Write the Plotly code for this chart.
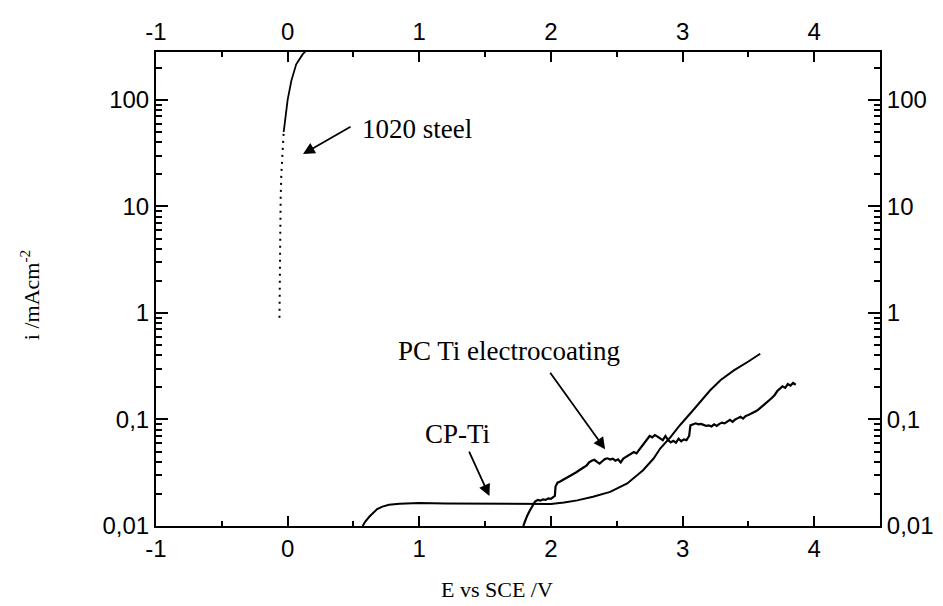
import numpy as np
import plotly.graph_objects as go

# ---------------- data ----------------
steel_E = [-0.062, -0.061, -0.059, -0.056, -0.053, -0.048, -0.041, -0.030, -0.013, 0.000, 0.028, 0.065, 0.115, 0.135]
steel_i = [0.9, 2.0, 5.0, 10.0, 12.0, 20.0, 31.0, 50.0, 74.0, 100.0, 151.0, 216.0, 269.0, 285.0]

cpti_E = [0.57, 0.59, 0.62, 0.65, 0.68, 0.72, 0.77, 0.85, 1.00, 1.20, 1.50, 1.80, 2.00, 2.10, 2.20,
          2.32, 2.45, 2.58, 2.70, 2.78, 2.83, 2.91, 2.98, 3.08, 3.21, 3.29, 3.39, 3.50, 3.59]
cpti_i = [0.0100, 0.0110, 0.0122, 0.0134, 0.0144, 0.0152, 0.0158, 0.0162, 0.0164, 0.0163, 0.0162,
          0.0160, 0.0161, 0.0166, 0.0174, 0.0188, 0.0209, 0.0251, 0.0334, 0.043, 0.0534, 0.0686,
          0.0883, 0.122, 0.188, 0.235, 0.289, 0.350, 0.414]

pcti_E = [1.79, 1.80, 1.82, 1.84, 1.86, 1.88, 1.90, 1.92, 1.94, 1.96, 1.98, 2.00, 2.02, 2.03, 2.035,
          2.05, 2.07, 2.09, 2.11, 2.13, 2.15, 2.17, 2.19, 2.21, 2.23, 2.25, 2.27, 2.29, 2.31, 2.33,
          2.35, 2.37, 2.39, 2.41, 2.43, 2.45, 2.47, 2.49, 2.51, 2.53, 2.55, 2.57, 2.59, 2.61, 2.63,
          2.65, 2.67, 2.69, 2.71, 2.73, 2.75, 2.77, 2.79, 2.81, 2.83, 2.85, 2.87, 2.89, 2.91, 2.93,
          2.95, 2.97, 2.99, 3.01, 3.03, 3.05, 3.06, 3.08, 3.10, 3.12, 3.14, 3.16, 3.18, 3.20, 3.22,
          3.24, 3.26, 3.28, 3.30, 3.32, 3.34, 3.36, 3.38, 3.40, 3.42, 3.44, 3.46, 3.48, 3.50, 3.52,
          3.54, 3.56, 3.58, 3.60, 3.62, 3.64, 3.66, 3.68, 3.70, 3.72, 3.74, 3.76, 3.78, 3.80, 3.82,
          3.84, 3.86]
pcti_i = [0.0100, 0.0108, 0.0125, 0.0140, 0.0155, 0.0170, 0.0176, 0.0173, 0.0178, 0.0176, 0.0182,
          0.0180, 0.0188, 0.0192, 0.0235, 0.0255, 0.0262, 0.0270, 0.0282, 0.0288, 0.0300, 0.0305,
          0.0318, 0.0330, 0.0340, 0.0356, 0.0368, 0.0395, 0.0410, 0.0418, 0.0400, 0.0385, 0.0405,
          0.0425, 0.0432, 0.0420, 0.0428, 0.0410, 0.0422, 0.0395, 0.0430, 0.0445, 0.0455, 0.0470,
          0.0495, 0.0480, 0.0520, 0.0560, 0.0600, 0.0650, 0.0700, 0.0680, 0.0715, 0.0690, 0.0660,
          0.0640, 0.0700, 0.0640, 0.0610, 0.0630, 0.0605, 0.0660, 0.0625, 0.0650, 0.0640, 0.0700,
          0.0880, 0.0905, 0.0920, 0.0900, 0.0910, 0.0890, 0.0870, 0.0880, 0.0860, 0.0900, 0.0870,
          0.0910, 0.0935, 0.0920, 0.0960, 0.0990, 0.0950, 0.1000, 0.1030, 0.1060, 0.1020, 0.1080,
          0.1100, 0.1130, 0.1150, 0.1200, 0.1250, 0.1310, 0.1380, 0.1460, 0.1530, 0.1600, 0.1700,
          0.1850, 0.1950, 0.2050, 0.1980, 0.2150, 0.2080, 0.2200, 0.2120]

x_ticks = [-1, 0, 1, 2, 3, 4]
x_ticktext = ["-1", "0", "1", "2", "3", "4"]
y_ticks = [0.01, 0.1, 1, 10, 100]
y_ticktext = ["0,01", "0,1", "1", "10", "100"]

X_RANGE = [-1, 4.5]
Y_RANGE = [-2, 2.45]

SANS = "Liberation Sans, Arial, sans-serif"
SERIF = "Liberation Serif, Times New Roman, serif"

fig = go.Figure()

split = 7  # dotted lower part / solid upper part of the steel curve
fig.add_trace(go.Scatter(x=steel_E[:split + 1], y=steel_i[:split + 1], mode="lines",
                         line=dict(color="black", width=2, dash="2px,5px"), showlegend=False))
fig.add_trace(go.Scatter(x=steel_E[split:], y=steel_i[split:], mode="lines",
                         line=dict(color="black", width=1.8), showlegend=False))
fig.add_trace(go.Scatter(x=cpti_E, y=cpti_i, mode="lines",
                         line=dict(color="black", width=2), showlegend=False))
fig.add_trace(go.Scatter(x=pcti_E, y=pcti_i, mode="lines",
                         line=dict(color="black", width=2.2), showlegend=False))
# invisible trace to activate the top / right axes
fig.add_trace(go.Scatter(x=[X_RANGE[0]], y=[1], xaxis="x2", yaxis="y2", mode="markers",
                         marker=dict(opacity=0), hoverinfo="skip", showlegend=False))

xcommon = dict(range=X_RANGE, tickmode="array", tickvals=x_ticks, ticktext=x_ticktext,
               ticks="inside", ticklen=10,
               tickwidth=2, tickcolor="black", showline=True, linecolor="black", linewidth=2,
               showgrid=False, zeroline=False, tickfont=dict(family=SANS, size=24, color="black"),
               minor=dict(ticks="inside", ticklen=5, tickwidth=1.5, tickcolor="black", dtick=0.5,
                          tick0=0, showgrid=False),
               automargin=False)
ycommon = dict(type="log", range=Y_RANGE, tickmode="array", tickvals=y_ticks, ticktext=y_ticktext,
               ticks="inside", ticklen=12, tickwidth=2, tickcolor="black", showline=True,
               linecolor="black", linewidth=2, showgrid=False, zeroline=False,
               tickfont=dict(family=SANS, size=24, color="black"),
               minor=dict(ticks="inside", ticklen=6, tickwidth=1.5, tickcolor="black",
                          dtick="D1", showgrid=False),
               automargin=False)

fig.update_layout(
    width=943, height=606,
    margin=dict(l=156, r=63, t=52, b=80),
    paper_bgcolor="white", plot_bgcolor="white",
    xaxis=dict(**xcommon, side="bottom", anchor="y"),
    xaxis2=dict(**xcommon, side="top", overlaying="x", anchor="y"),
    yaxis=dict(**ycommon, side="left", anchor="x"),
    yaxis2=dict(**ycommon, side="right", overlaying="y", anchor="x"),
)

ann_font = dict(family=SERIF, size=27, color="black")
labels = [
    dict(x=0.55, y=np.log10(53.4), text="1020 steel", xanchor="left"),
    dict(x=1.682, y=np.log10(0.44), text="PC Ti electrocoating", xanchor="center"),
    dict(x=(457.5 - 156) / 131.6 - 1, y=(312 - 433) / 106.5, text="CP-Ti", xanchor="center"),
]
for a in labels:
    fig.add_annotation(xref="x", yref="y", showarrow=False, font=ann_font, yanchor="middle", **a)

arrows = [
    dict(x=0.117, y=np.log10(31.1), ax=49, ay=-28),
    dict(x=2.412, y=np.log10(0.0525), ax=-56, ay=-78),
    dict(x=1.533, y=np.log10(0.0191), ax=-21, ay=-46),
]
for a in arrows:
    fig.add_annotation(xref="x", yref="y", text="", showarrow=True, arrowhead=2, arrowsize=1.3,
                       arrowwidth=1.8, arrowcolor="black", standoff=0, startstandoff=0, **a)

# axis titles
fig.add_annotation(xref="paper", yref="paper", x=(497 - 156) / 724, y=(526 - 590) / 474.3,
                   text="E vs SCE /V", showarrow=False, xanchor="center", yanchor="middle",
                   font=dict(family=SERIF, size=22, color="black"))
fig.add_annotation(xref="paper", yref="paper", x=(30 - 156) / 724, y=(526 - 295) / 474.3,
                   text="i /mAcm<sup>-2</sup>", showarrow=False, textangle=-90,
                   xanchor="center", yanchor="middle",
                   font=dict(family=SERIF, size=22, color="black"))

fig.write_html("out.html")
